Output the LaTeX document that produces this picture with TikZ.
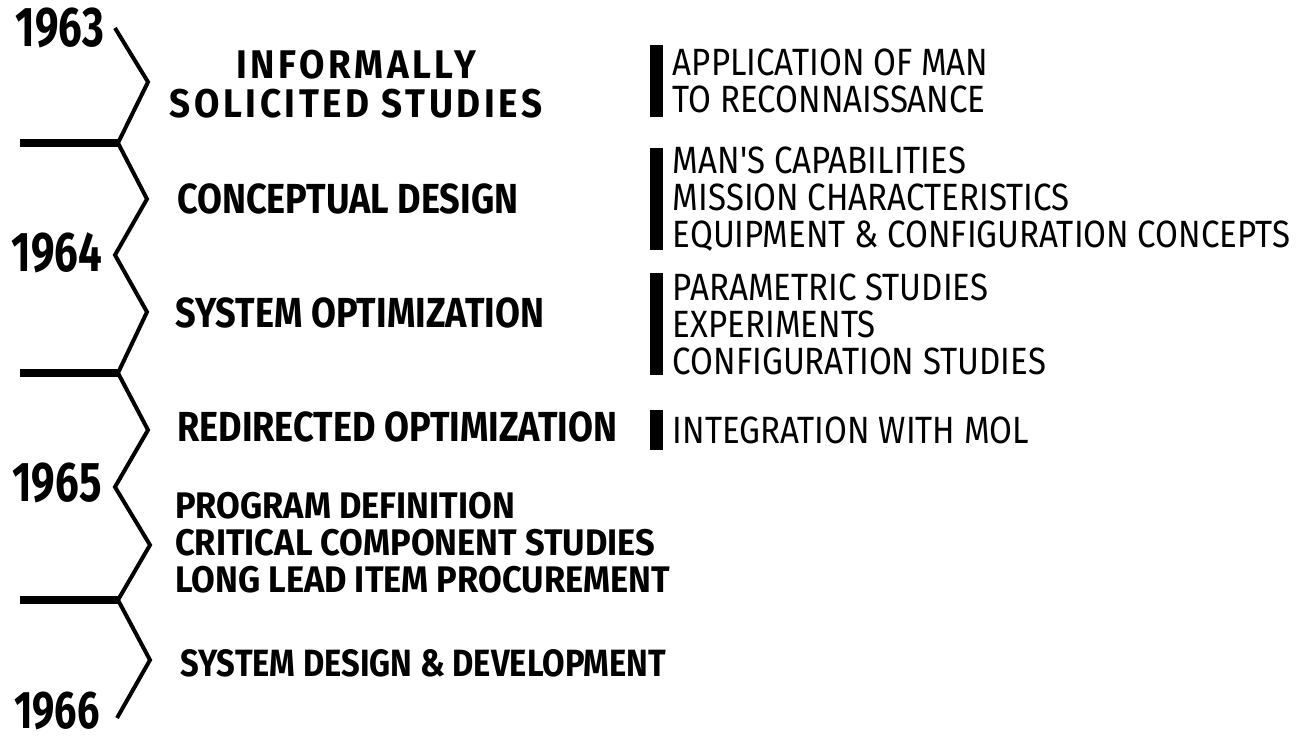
\documentclass[tikz,border=0pt]{standalone}
\usepackage{fontspec}
\newfontfamily\phasefont{Fira Sans}[FakeStretch=0.86]
\newfontfamily\widefont{Fira Sans}[FakeStretch=0.92, LetterSpace=9]
\newfontfamily\defnfont{Fira Sans}[FakeStretch=0.93]
\newfontfamily\yearfont{Fira Sans}[FakeStretch=0.75]
\newfontfamily\notefont{Fira Sans}[FakeStretch=0.87]
\usetikzlibrary{positioning}

\begin{document}
\begin{tikzpicture}[
  x=1pt, y=-1pt,
  timeline/.style={
    line width=4pt,
    line join=miter,
    draw=black
  },
  yearbar/.style={
    line width=8pt,
    draw=black
  },
  year/.style={
    inner sep=0pt,
    font=\yearfont\bfseries\fontsize{56}{60}\selectfont
  },
  phase/.style={
    anchor=west,
    align=left,
    inner sep=0pt,
    font=\phasefont\bfseries\fontsize{42}{42}\selectfont
  },
  notebar/.style={
    rectangle,
    fill=black,
    inner sep=0pt,
    minimum width=13pt
  },
  note/.style={
    anchor=west,
    align=left,
    inner sep=0pt,
    font=\notefont\fontsize{38}{37}\selectfont
  }]
  \useasboundingbox (0,0) rectangle (1307,746);

  % the zigzag time line
  \coordinate (p0) at (115,28);
  \coordinate (p1) at (148,82);
  \coordinate (j1) at (118,143);
  \coordinate (p2) at (147,199);
  \coordinate (p3) at (115,255);
  \coordinate (p4) at (147,312);
  \coordinate (j2) at (118,373);
  \coordinate (p5) at (148,430);
  \coordinate (p6) at (115,487);
  \coordinate (p7) at (150,545);
  \coordinate (j3) at (118,600);
  \coordinate (p8) at (150,660);
  \coordinate (p9) at (117,718);
  \coordinate (b1) at (20,143);
  \coordinate (b2) at (20,373);
  \coordinate (b3) at (20,600);
  \draw[timeline] (p0) -- (p1) -- (j1) -- (p2) -- (p3) -- (p4) -- (j2)
    -- (p5) -- (p6) -- (p7) -- (j3) -- (p8) -- (p9);
  \draw[yearbar] (b1) -- (j1);
  \draw[yearbar] (b2) -- (j2);
  \draw[yearbar] (b3) -- (j3);

  \node[year] (y1963) at (60,28) {1963};
  \node[year] (y1964) at (57,253) {1964};
  \node[year] (y1965) at (57,483) {1965};
  \node[year, font=\yearfont\bfseries\fontsize{53}{56}\selectfont] (y1966) at (57,711) {1966};

  % phases
  \node[phase, anchor=center, align=center, font=\widefont\bfseries\fontsize{40}{39}\selectfont]
    (informal) at (356,84) {INFORMALLY\\SOLICITED STUDIES};
  \node[phase] (concept) at (177,199) {CONCEPTUAL DESIGN};
  \node[phase] (optim) at (175,313) {SYSTEM OPTIMIZATION};
  \node[phase] (redirect) at (177,427) {REDIRECTED OPTIMIZATION};
  \node[phase, font=\defnfont\bfseries\fontsize{37}{37}\selectfont] (define) at (175,543)
    {PROGRAM DEFINITION\\CRITICAL COMPONENT STUDIES\\LONG LEAD ITEM PROCUREMENT};
  \node[phase, font=\phasefont\bfseries\fontsize{38}{38}\selectfont] (develop) at (180,663) {SYSTEM DESIGN \& DEVELOPMENT};

  % notes
  \node[notebar, minimum height=72pt] (bar1) at (656,81) {};
  \node[note, right=10pt of bar1] (note1) {APPLICATION OF MAN\\TO RECONNAISSANCE};
  \node[notebar, minimum height=102pt] (bar2) at (656,199) {};
  \node[note, right=10pt of bar2] (note2) {MAN'S CAPABILITIES\\MISSION CHARACTERISTICS\\EQUIPMENT \& CONFIGURATION CONCEPTS};
  \node[notebar, minimum height=102pt] (bar3) at (656,324) {};
  \node[note, right=10pt of bar3] (note3) {PARAMETRIC STUDIES\\EXPERIMENTS\\CONFIGURATION STUDIES};
  \node[notebar, minimum height=40pt] (bar4) at (656,430) {};
  \node[note, right=10pt of bar4] (note4) {INTEGRATION WITH MOL};
\end{tikzpicture}
\end{document}
